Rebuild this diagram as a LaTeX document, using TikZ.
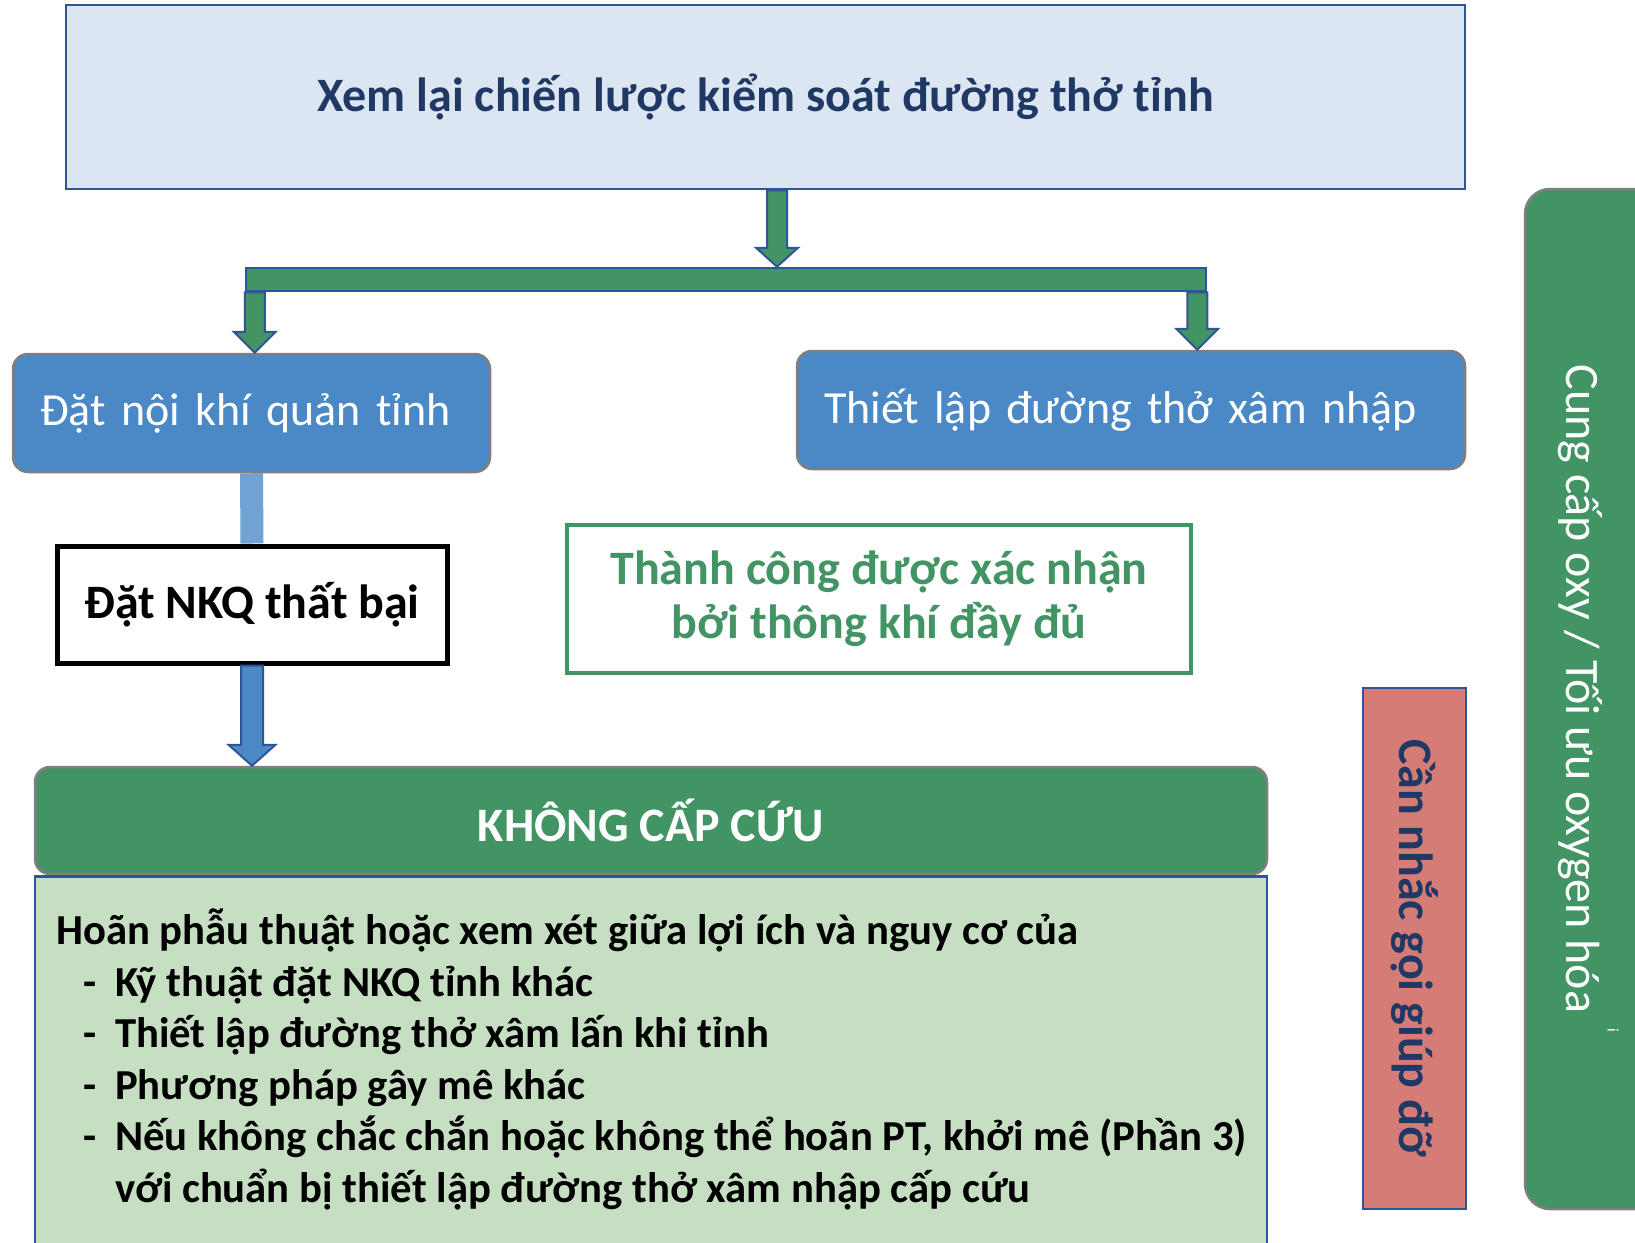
\documentclass[tikz,border=0pt]{standalone}
\usepackage{fontspec}
\setmainfont{Carlito}
\usetikzlibrary{calc,positioning}

\definecolor{titlefill}{HTML}{DCE6F2}
\definecolor{navyedge}{HTML}{2F5597}
\definecolor{navytext}{HTML}{1F3864}
\definecolor{boxblue}{HTML}{4A88C6}
\definecolor{linkblue}{HTML}{70A3D3}
\definecolor{okgreen}{HTML}{439464}
\definecolor{paleGreen}{HTML}{C6DEC2}
\definecolor{helpred}{HTML}{D57C77}
\definecolor{edgegray}{HTML}{7F7F7F}

\tikzset{
	titlebox/.style={draw=navyedge, line width=2.5pt, fill=titlefill, text=navytext,
		minimum width=1399pt, minimum height=184pt, font=\fontsize{48}{58}\selectfont\bfseries},
	bar/.style={draw=navyedge, line width=2.5pt, fill=okgreen, minimum width=960pt, minimum height=23pt, inner sep=0pt},
	bluebox/.style={draw=edgegray, line width=2.5pt, fill=boxblue, rounded corners=15pt, text=white,
		minimum height=118pt, inner xsep=27pt, align=left, font=\fontsize{46}{54}\selectfont},
	failbox/.style={draw=black, line width=5pt, fill=white, minimum width=390pt, minimum height=117pt,
		font=\fontsize{48}{56}\selectfont\bfseries},
	okbox/.style={draw=okgreen, line width=4pt, fill=white, text=okgreen, minimum width=624pt, minimum height=148pt,
		align=center, font=\fontsize{48}{54}\selectfont\bfseries},
	headbox/.style={draw=edgegray, line width=2.5pt, fill=okgreen, rounded corners=15pt, text=white,
		minimum width=1232pt, minimum height=107pt, font=\fontsize{48}{56}\selectfont\bfseries},
	bodybox/.style={draw=navyedge, line width=2.5pt, fill=paleGreen, minimum width=1232pt, minimum height=390pt},
	bodytext/.style={anchor=base west, inner sep=0pt, align=left, font=\fontsize{42.7}{51.5}\selectfont\bfseries},
	helpbox/.style={draw=navyedge, line width=2.5pt, fill=helpred, text=navytext, rotate=-90,
		minimum width=521pt, minimum height=103pt, font=\fontsize{48}{56}\selectfont\bfseries},
	oxybox/.style={draw=edgegray, line width=2.5pt, fill=okgreen, rounded corners=25pt, rotate=-90,
		minimum width=1020pt, minimum height=145pt},
	oxytext/.style={text=white, rotate=-90, inner sep=0pt, font=\fontsize{48}{56}\selectfont},
	linkbar/.style={draw=linkblue, line width=23pt},
	greenarrow/.style={fill=okgreen, draw=navyedge, line width=2pt, line join=miter},
	bluearrow/.style={fill=boxblue, draw=navyedge, line width=2pt, line join=miter}
}

% block arrow: [style]{start}{tip}{half shaft}{half head}{head length}
\newcommand{\blockarrow}[6][greenarrow]{%
	\filldraw[#1] let \p1=(#2), \p2=(#3) in
		(\x1-#4,\y1) -- (\x1+#4,\y1) -- (\x1+#4,\y2+#6) -- (\x1+#5,\y2+#6)
		-- (\x1,\y2) -- (\x1-#5,\y2+#6) -- (\x1-#4,\y2+#6) -- cycle;}

\newcommand{\dashitem}{\makebox[59pt][r]{-\hspace{19pt}}}

\begin{document}
\begin{tikzpicture}[x=1pt,y=-1pt]
	\useasboundingbox (0,0) rectangle (1635,1242);
	
	\node[titlebox] (review) at (765.5,97) {Xem lại chiến lược kiểm soát đường thở tỉnh};
	\node[bar] (bar) at (726,279.5) {};
	
	\node[bluebox, minimum width=477pt, text width=423pt] (intub) at (251.5,413) {Đặt nội khí quản tỉnh};
	\node[bluebox, minimum width=668pt, text width=614pt] (invade) at (1131,410) {Thiết lập đường thở xâm nhập};
	
	\node[failbox] (fail) at (252,604.5) {Đặt NKQ thất bại};
	\node[okbox] (success) at (879,599) {Thành công được xác nhận\\bởi thông khí đầy đủ};
	
	\node[headbox] (header) at (651,820.5) {KHÔNG CẤP CỨU};
	\node[bodybox, anchor=north] (body) at (header.south) {};
	\node[bodytext] (bodytext) at (56,1202) {Hoãn phẫu thuật hoặc xem xét giữa lợi ích và nguy cơ của\\
		\dashitem Kỹ thuật đặt NKQ tỉnh khác\\
		\dashitem Thiết lập đường thở xâm lấn khi tỉnh\\
		\dashitem Phương pháp gây mê khác\\
		\dashitem Nếu không chắc chắn hoặc không thể hoãn PT, khởi mê (Phần 3)\\
		\hspace*{59pt}với chuẩn bị thiết lập đường thở xâm nhập cấp cứu};
	
	\node[helpbox] (help) at (1414.5,948.5) {Cần nhắc gọi giúp đỡ};
	\node[oxybox] (oxy) at (1597.5,699) {};
	\node[oxytext] (oxytext) at (1580,689) {Cung cấp oxy / Tối ưu oxygen hóa};
	\node[oxytext, font=\fontsize{16}{18}\selectfont] (oxynote) at (1613,1030) {i};
	
	% arrows
	\blockarrow{$(review.south)+(11.5,0)$}{bar.north}{10}{21}{19}
	\blockarrow{$(bar.south west)+(10,0)$}{intub.north}{10}{21}{21}
	\blockarrow{$(bar.south east)+(-10,0)$}{invade.north}{10}{21}{21}
	\draw[linkbar] (intub.south) -- (fail.north);
	\blockarrow[bluearrow]{fail.south}{header.north}{11}{23.5}{21}
	
\end{tikzpicture}
\end{document}
